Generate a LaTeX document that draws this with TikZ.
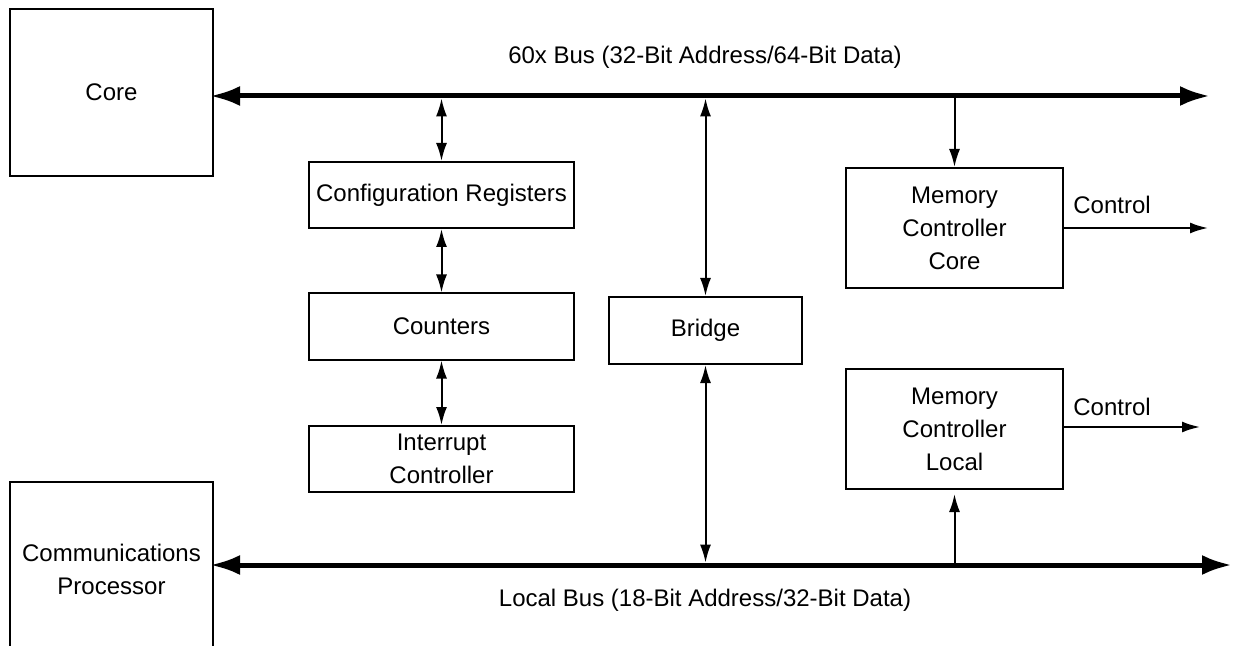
\documentclass[tikz,border=0pt]{standalone}
\usepackage{fontspec}
\setmainfont{Liberation Sans}
\usetikzlibrary{arrows.meta}

\begin{document}
\begin{tikzpicture}[x=0.5pt,y=-0.5pt,
      every node/.style={font=\fontsize{12pt}{16.5pt}\selectfont,align=center},
      block/.style={draw,line width=1pt,inner sep=0pt},
      wide/.style={block,minimum width=132.5pt,minimum height=33pt},
      mc/.style={block,minimum width=108.5pt,minimum height=60pt},
      bus/.style={line width=2.5pt,shorten <=-2pt,{Latex[length=15pt,width=10pt]}-{Latex[length=15pt,width=10pt]}},
      tap/.style={line width=1pt,-{Latex[length=9pt,width=5.5pt]}},
      duplex/.style={line width=1pt,{Latex[length=9pt,width=5.5pt]}-{Latex[length=9pt,width=5.5pt]}}]
    \clip (0,0) rectangle (1235,646);
    \node[block,minimum width=101.5pt,minimum height=83.5pt] (core) at (111.5,92.5) {Core};
    \node[block,minimum width=101.5pt,minimum height=87pt] (cpm) at (111.5,569) {Communications\\Processor};
    \node[wide] (cfgreg) at (441.5,195) {Configuration Registers};
    \node[wide] (counters) at (441.5,326.5) {Counters};
    \node[wide] (intctl) at (441.5,459) {Interrupt\\Controller};
    \node[block,minimum width=96.5pt,minimum height=33.5pt] (bridge) at (705.5,330.5) {Bridge};
    \node[mc] (mccore) at (954.5,228) {Memory\\Controller\\Core};
    \node[mc] (mclocal) at (954.5,429) {Memory\\Controller\\Local};

    \coordinate (busend) at (1210,96);
    \coordinate (localend) at (1232,565);
    \coordinate (ctlcore) at (1208,228);
    \coordinate (ctllocal) at (1200,427);

    \draw[duplex,shorten <=1.2pt] (cfgreg.north |- busend) -- (cfgreg.north);
    \draw[duplex] (cfgreg) -- (counters);
    \draw[duplex] (counters) -- (intctl);
    \draw[duplex,shorten <=1.2pt] (bridge.north |- busend) -- (bridge.north);
    \draw[duplex,shorten >=1.2pt] (bridge.south) -- (bridge.south |- localend);
    \draw[tap] (mccore.north |- busend) -- (mccore.north);
    \draw[tap,shorten >=2pt] (mclocal.south |- localend) -- (mclocal.south);
    \draw[tap] (mccore.east) -- (ctlcore);
    \draw[tap] (mclocal.east |- ctllocal) -- (ctllocal);

    \draw[bus] (core.east |- busend) -- (busend);
    \draw[bus] (cpm.east |- localend) -- (localend);

    \node (buslabel) at (705,57) {60x Bus (32-Bit Address/64-Bit Data)};
    \node (locallabel) at (705,600) {Local Bus (18-Bit Address/32-Bit Data)};
    \node (ctlcorelabel) at (1112,205) {Control};
    \node (ctllocallabel) at (1112,407) {Control};
\end{tikzpicture}
\end{document}
